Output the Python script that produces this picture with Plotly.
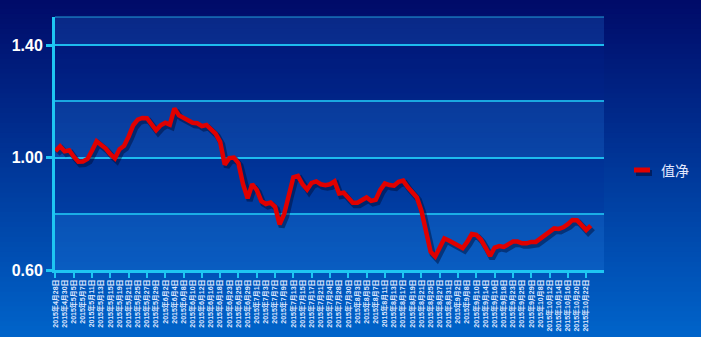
import plotly.graph_objects as go

# ---------------- data ----------------
dates = [
    "2015-04-28", "2015-04-29", "2015-04-30", "2015-05-04", "2015-05-05", "2015-05-06", "2015-05-07", "2015-05-08",
    "2015-05-11", "2015-05-12", "2015-05-13", "2015-05-14", "2015-05-15", "2015-05-18", "2015-05-19", "2015-05-20",
    "2015-05-21", "2015-05-22", "2015-05-25", "2015-05-26", "2015-05-27", "2015-05-28", "2015-05-29", "2015-06-01",
    "2015-06-02", "2015-06-03", "2015-06-04", "2015-06-05", "2015-06-08", "2015-06-09", "2015-06-10", "2015-06-11",
    "2015-06-12", "2015-06-15", "2015-06-16", "2015-06-17", "2015-06-18", "2015-06-19", "2015-06-23", "2015-06-24",
    "2015-06-25", "2015-06-26", "2015-06-29", "2015-06-30", "2015-07-01", "2015-07-02", "2015-07-03", "2015-07-06",
    "2015-07-07", "2015-07-08", "2015-07-09", "2015-07-10", "2015-07-13", "2015-07-14", "2015-07-15", "2015-07-16",
    "2015-07-17", "2015-07-20", "2015-07-21", "2015-07-22", "2015-07-24", "2015-07-27", "2015-07-28", "2015-07-29",
    "2015-07-30", "2015-07-31", "2015-08-03", "2015-08-04", "2015-08-05", "2015-08-06", "2015-08-07", "2015-08-10",
    "2015-08-11", "2015-08-12", "2015-08-13", "2015-08-14", "2015-08-17", "2015-08-18", "2015-08-19", "2015-08-20",
    "2015-08-21", "2015-08-24", "2015-08-25", "2015-08-26", "2015-08-27", "2015-08-28", "2015-08-31", "2015-09-01",
    "2015-09-02", "2015-09-07", "2015-09-08", "2015-09-09", "2015-09-10", "2015-09-11", "2015-09-14", "2015-09-15",
    "2015-09-16", "2015-09-17", "2015-09-18", "2015-09-22", "2015-09-23", "2015-09-24", "2015-09-25", "2015-09-28",
    "2015-09-29", "2015-09-30", "2015-10-08", "2015-10-09", "2015-10-12", "2015-10-13", "2015-10-14", "2015-10-15",
    "2015-10-16", "2015-10-19", "2015-10-20", "2015-10-21", "2015-10-22", "2015-10-23",
]

nav_values = [
    1.023, 1.040, 1.022, 1.026, 1.003, 0.985, 0.986, 0.995, 1.025, 1.058,
    1.045, 1.032, 1.012, 0.997, 1.030, 1.042, 1.075, 1.115, 1.135, 1.141,
    1.140, 1.120, 1.097, 1.115, 1.124, 1.117, 1.175, 1.150, 1.140, 1.130,
    1.124, 1.122, 1.112, 1.116, 1.102, 1.085, 1.056, 0.975, 0.998, 1.000,
    0.980, 0.905, 0.855, 0.905, 0.885, 0.845, 0.835, 0.840, 0.825, 0.762,
    0.800, 0.870, 0.930, 0.935, 0.905, 0.886, 0.910, 0.915, 0.905, 0.902,
    0.905, 0.915, 0.872, 0.875, 0.855, 0.839, 0.839, 0.848, 0.858, 0.846,
    0.850, 0.885, 0.908, 0.902, 0.900, 0.914, 0.918, 0.895, 0.879, 0.858,
    0.810, 0.740, 0.665, 0.648, 0.685, 0.712, 0.705, 0.696, 0.688, 0.678,
    0.700, 0.728, 0.725, 0.708, 0.680, 0.650, 0.680, 0.685, 0.682, 0.690,
    0.701, 0.701, 0.695, 0.695, 0.700, 0.700, 0.712, 0.725, 0.735, 0.748,
    0.746, 0.752, 0.763, 0.778, 0.777, 0.760, 0.742, 0.758,
]

series_name = "值净"
y_label_vals = [0.60, 1.00, 1.40]
y_grid_vals = [0.6, 0.8, 1.0, 1.2, 1.4]
y_range = [0.6, 1.5]
x_range = [-0.1, 119.9]


def fmt_date(d):
    y, m, dd = d.split("-")
    return f"{int(y)}年{int(m)}月{int(dd)}日"


x_idx = list(range(len(dates)))
label_idx = x_idx[::2]
label_text = [fmt_date(dates[i]) for i in label_idx]
tick_idx = list(range(0, 121, 4))

# ---------------- geometry ----------------
W, H = 701, 337
L, R, T, B = 55, 97, 17, 67
pw, ph = W - L - R, H - T - B


def px2x(p):
    return (p - L) / pw


def py2y(p):
    return (H - B - p) / ph


def lerp_color(c1, c2, t):
    return "rgb(%d,%d,%d)" % tuple(round(a + (b - a) * t) for a, b in zip(c1, c2))


shapes = []
# vertical gradient background
top_c, bot_c = (0, 10, 104), (0, 100, 202)
N = 68
for k in range(N):
    p0 = k * H / N - 1
    p1 = (k + 1) * H / N + 1
    shapes.append(dict(type="rect", xref="paper", yref="paper",
                       x0=px2x(-2), x1=px2x(W + 2), y0=py2y(p1), y1=py2y(p0),
                       fillcolor=lerp_color(top_c, bot_c, (k + 0.5) / N),
                       line=dict(width=0), layer="below"))

# alternate lighter / darker bands inside plot
band_edges = y_grid_vals + [y_range[1]]
for j in range(0, len(band_edges) - 1, 2):
    shapes.append(dict(type="rect", xref="paper", yref="y",
                       x0=0, x1=1, y0=band_edges[j], y1=band_edges[j + 1],
                       fillcolor="rgba(40,130,230,0.22)", line=dict(width=0), layer="below"))
for j in range(1, len(band_edges) - 1, 2):
    shapes.append(dict(type="rect", xref="paper", yref="y",
                       x0=0, x1=1, y0=band_edges[j], y1=band_edges[j + 1],
                       fillcolor="rgba(0,40,150,0.18)", line=dict(width=0), layer="below"))

# top border line of plot
shapes.append(dict(type="line", xref="paper", yref="paper", x0=0, x1=1, y0=1, y1=1,
                   line=dict(color="rgba(40,190,240,0.8)", width=1.2)))

# custom legend swatch
lg_y = py2y(170)
shapes.append(dict(type="line", xref="paper", yref="paper",
                   x0=px2x(636), x1=px2x(652), y0=py2y(173), y1=py2y(173),
                   line=dict(color="rgba(0,10,50,0.55)", width=6)))
shapes.append(dict(type="line", xref="paper", yref="paper",
                   x0=px2x(634), x1=px2x(650), y0=lg_y, y1=lg_y,
                   line=dict(color="#e00000", width=5)))

fig = go.Figure()

# shadow of the line (same series, nudged) -- drawn on the lower axis
fig.add_trace(go.Scatter(
    x=[v + 0.45 for v in x_idx], y=[v - 0.009 for v in nav_values],
    xaxis="x", yaxis="y",
    mode="lines", line=dict(color="rgba(0,8,45,0.45)", width=6),
    hoverinfo="skip", showlegend=False))

# main series -- drawn on the overlaying axis (on top)
fig.add_trace(go.Scatter(
    x=x_idx, y=nav_values, name=series_name, mode="lines",
    xaxis="x2", yaxis="y",
    line=dict(color="#e00000", width=4.5), showlegend=False))

axis_color = "#1ec6f2"

fig.update_layout(
    width=W, height=H,
    margin=dict(l=L, r=R, t=T, b=B),
    paper_bgcolor="#003a96",
    plot_bgcolor="rgba(0,0,0,0)",
    showlegend=False,
    shapes=shapes,
    annotations=[dict(xref="paper", yref="paper", x=px2x(659), y=lg_y,
                      xanchor="left", yanchor="middle", showarrow=False,
                      text=series_name,
                      font=dict(family="Noto Sans CJK SC", size=14, color="#e4eaff"))],
    xaxis=dict(
        range=x_range, automargin=False,
        tickmode="array", tickvals=tick_idx, showticklabels=False,
        ticks="outside", ticklen=5, tickwidth=2, tickcolor=axis_color,
        showgrid=False, zeroline=False,
        showline=True, linecolor=axis_color, linewidth=3,
    ),
    xaxis2=dict(
        range=x_range, automargin=False, overlaying="x", side="bottom",
        tickmode="array", tickvals=label_idx, ticktext=label_text,
        tickangle=-90, ticks="", showgrid=False, zeroline=False, showline=False,
        ticklabelstandoff=7,
        tickfont=dict(family="Liberation Sans, Noto Sans CJK SC", size=7,
                      color="#dfe7ff", weight="bold"),
    ),
    yaxis=dict(
        range=y_range, automargin=False,
        tickmode="array", tickvals=y_label_vals,
        ticktext=["%.2f" % v for v in y_label_vals],
        ticks="outside", ticklen=6, tickwidth=2.5, tickcolor=axis_color,
        showgrid=True, gridcolor="rgba(30,190,240,0.85)", gridwidth=1.5,
        zeroline=False, showline=True, linecolor=axis_color, linewidth=3,
        tickfont=dict(family="Liberation Sans", size=16, color="#ffffff", weight="bold"),
        minor=dict(tickmode="array", tickvals=y_grid_vals, showgrid=True,
                   gridcolor="rgba(30,190,240,0.85)", gridwidth=1.5, ticks=""),
    ),
)

fig.write_html("out.html")
